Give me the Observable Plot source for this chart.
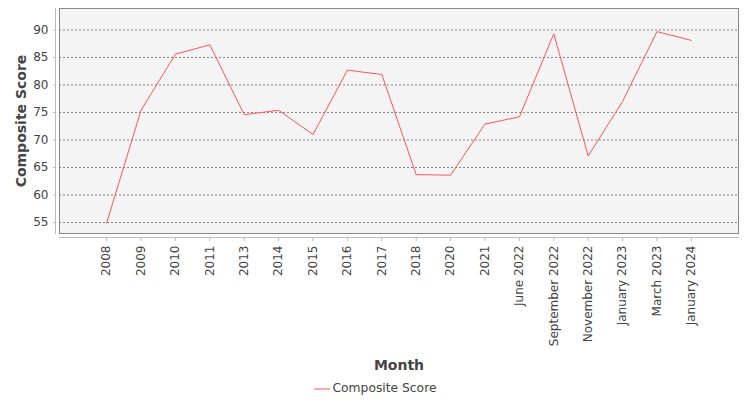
<!DOCTYPE html>
<html>
<head>
<meta charset="utf-8">
<script src="https://cdn.jsdelivr.net/npm/d3@7"></script>
<script src="https://cdn.jsdelivr.net/npm/@observablehq/plot@0.6"></script>
<style>
  html, body { margin: 0; padding: 0; background: #fff; }
  body { width: 750px; height: 400px; overflow: hidden; font-family: "DejaVu Sans", sans-serif; }
  #legend { height: 25px; line-height: 26px; text-align: center; font-size: 12.3px; color: #444; }
  #legend svg { vertical-align: middle; margin-right: 3px; }
</style>
</head>
<body>
<div id="chart"></div>
<div id="legend"><svg width="16" height="4"><line x1="0" x2="16" y1="2" y2="2" stroke="#ff5555" stroke-width="1"/></svg><span>Composite Score</span></div>
<script>
const months = ["2008","2009","2010","2011","2013","2014","2015","2016","2017","2018","2020","2021","June 2022","September 2022","November 2022","January 2023","March 2023","January 2024"];
const scores = [54.9, 75.4, 85.6, 87.3, 74.6, 75.4, 71.0, 82.7, 81.9, 63.7, 63.6, 72.9, 74.2, 89.3, 67.1, 77.0, 89.7, 88.1];
const yTicks = [55, 60, 65, 70, 75, 80, 85, 90];
const seriesName = "Composite Score";
const xTitle = "Month";
const yTitle = "Composite Score";

const data = months.map((m, i) => ({month: m, score: scores[i]}));

const chart = Plot.plot({
  width: 750,
  height: 375,
  marginLeft: 59,
  marginRight: 12,
  marginTop: 8,
  marginBottom: 142,
  style: {fontFamily: "DejaVu Sans", fontSize: "12px", color: "#444", background: "#fff"},
  x: {type: "point", domain: months, padding: 1.37, round: false, label: null},
  y: {domain: [53, 93.9], label: null},
  marks: [
    Plot.frame({fill: "#f4f4f4"}),
    Plot.gridY(yTicks, {stroke: "#666", strokeOpacity: 1, strokeDasharray: "2,2", strokeWidth: 0.8}),
    Plot.frame({stroke: "#888"}),
    Plot.frame({anchor: "left", dx: -4, stroke: "#bbb"}),
    Plot.frame({anchor: "bottom", dy: 4, stroke: "#bbb"}),
    Plot.axisY(yTicks, {tickSize: 2, dx: -4, tickPadding: 5, label: null, stroke: "#bbb", fill: "#444"}),
    Plot.axisX({tickRotate: -90, tickSize: 4, dy: 4, tickPadding: 4, label: null, stroke: "#bbb", fill: "#444"}),
    Plot.line(data, {x: "month", y: "score", stroke: "#ff5555", strokeWidth: 1}),
    Plot.text([xTitle], {frameAnchor: "bottom", dy: 136, lineAnchor: "bottom", fontWeight: "bold", fontSize: 14, fill: "#444"}),
    Plot.text([yTitle], {frameAnchor: "left", textAnchor: "middle", rotate: -90, dx: -34, lineAnchor: "bottom", fontWeight: "bold", fontSize: 14, fill: "#444"})
  ]
});
document.getElementById("chart").appendChild(chart);
</script>
</body>
</html>
